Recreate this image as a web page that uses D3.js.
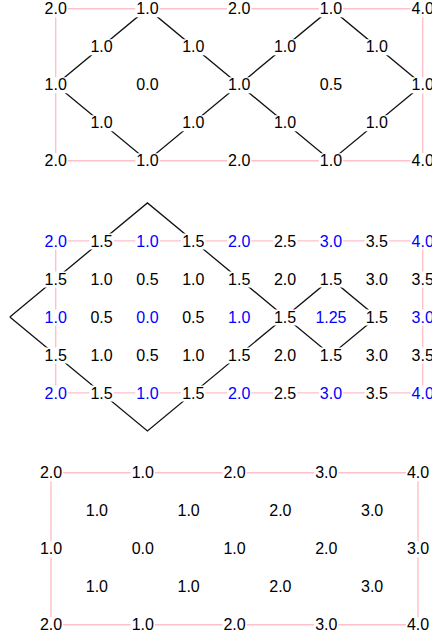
<!DOCTYPE html>
<html>
<head>
<meta charset="utf-8">
<script src="https://cdn.jsdelivr.net/npm/d3@7"></script>
<style>
  html, body { margin: 0; padding: 0; background: #fff; }
  svg { display: block; }
</style>
</head>
<body>
<svg id="chart" width="432" height="638"></svg>
<script>
// ---------- data ----------
const topValues = [
  [2.0, null, 1.0, null, 2.0, null, 1.0, null, 4.0],
  [null, 1.0, null, 1.0, null, 1.0, null, 1.0, null],
  [1.0, null, 0.0, null, 1.0, null, 0.5, null, 1.0],
  [null, 1.0, null, 1.0, null, 1.0, null, 1.0, null],
  [2.0, null, 1.0, null, 2.0, null, 1.0, null, 4.0]
];
const midValues = [
  [2.0, 1.5, 1.0, 1.5, 2.0, 2.5, 3.0, 3.5, 4.0],
  [1.5, 1.0, 0.5, 1.0, 1.5, 2.0, 1.5, 3.0, 3.5],
  [1.0, 0.5, 0.0, 0.5, 1.0, 1.5, 1.25, 1.5, 3.0],
  [1.5, 1.0, 0.5, 1.0, 1.5, 2.0, 1.5, 3.0, 3.5],
  [2.0, 1.5, 1.0, 1.5, 2.0, 2.5, 3.0, 3.5, 4.0]
];
const botValues = [
  [2.0, null, 1.0, null, 2.0, null, 3.0, null, 4.0],
  [null, 1.0, null, 1.0, null, 2.0, null, 3.0, null],
  [1.0, null, 0.0, null, 1.0, null, 2.0, null, 3.0],
  [null, 1.0, null, 1.0, null, 2.0, null, 3.0, null],
  [2.0, null, 1.0, null, 2.0, null, 3.0, null, 4.0]
];
// grid-coordinate paths [col, row]
const borderPath = [[0, 0], [8, 0], [8, 4], [0, 4], [0, 0]];
const topPaths = [
  [[0, 2], [2, 0], [4, 2], [2, 4], [0, 2]],
  [[4, 2], [6, 0], [8, 2], [6, 4], [4, 2]]
];
const midPaths = [
  [[-1, 2], [2, -1], [5, 2], [2, 5], [-1, 2]],
  [[5, 2], [6, 1], [7, 2], [6, 3], [5, 2]]
];
const botPaths = [];

// ---------- layout ----------
const panels = [
  { values: topValues, paths: topPaths, highlight: false, x0: 55.7, y0: 8.7 },
  { values: midValues, paths: midPaths, highlight: true,  x0: 55.7, y0: 240.9 },
  { values: botValues, paths: botPaths, highlight: false, x0: 51.0, y0: 472.7 }
];
const colStep = 45.875, rowStep = 38.0;

const svg = d3.select("#chart");
const fmt = v => (Math.round(v * 10) === v * 10) ? v.toFixed(1) : String(v);

panels.forEach(p => {
  const x = d3.scaleLinear().domain([0, 8]).range([p.x0, p.x0 + 8 * colStep]);
  const y = d3.scaleLinear().domain([0, 4]).range([p.y0, p.y0 + 4 * rowStep]);
  const line = d3.line().x(d => x(d[0])).y(d => y(d[1]));
  const g = svg.append("g");

  g.append("path").datum(borderPath)
    .attr("d", line).attr("fill", "none")
    .attr("stroke", "#ffc0cb").attr("stroke-width", 1.4);

  g.selectAll("path.diag").data(p.paths).enter().append("path")
    .attr("class", "diag")
    .attr("d", line).attr("fill", "none")
    .attr("stroke", "#111").attr("stroke-width", 1.3);

  const cells = [];
  p.values.forEach((row, r) => row.forEach((v, c) => {
    if (v !== null) cells.push({ r, c, v });
  }));

  const lab = g.selectAll("g.lab").data(cells).enter().append("g").attr("class", "lab");
  const txt = lab.append("text")
    .attr("x", d => x(d.c)).attr("y", d => y(d.r))
    .attr("dy", "0.35em")
    .attr("text-anchor", "middle")
    .attr("font-family", "'Liberation Sans', Arial, sans-serif")
    .attr("font-size", 16)
    .attr("fill", d => (p.highlight && d.r % 2 === 0 && d.c % 2 === 0) ? "#0000ff" : "#000")
    .text(d => fmt(d.v));
  txt.each(function () {
    const b = this.getBBox();
    d3.select(this.parentNode).insert("rect", "text")
      .attr("x", b.x - 1).attr("y", b.y + 1).attr("width", b.width + 2).attr("height", b.height - 1)
      .attr("fill", "#fff");
  });
});
</script>
</body>
</html>
